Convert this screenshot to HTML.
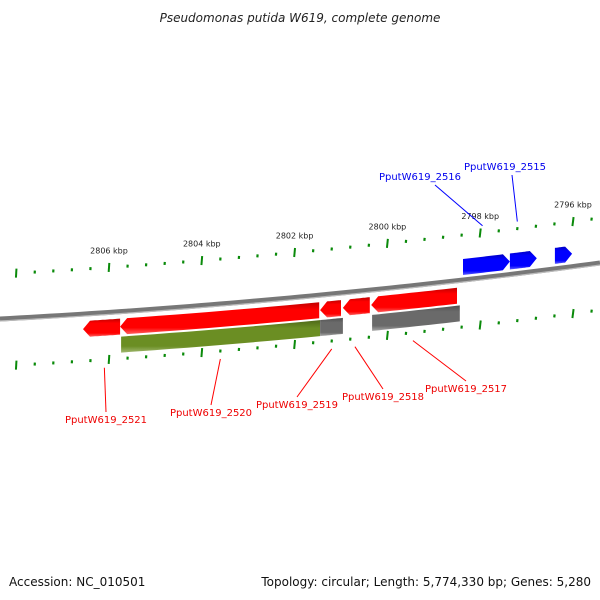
<!DOCTYPE html>
<html><head><meta charset="utf-8"><style>
html,body{margin:0;padding:0;background:#fff;width:600px;height:600px;overflow:hidden}
text{font-family:"DejaVu Sans","Liberation Sans",sans-serif}
</style></head><body>
<svg id="map" width="600" height="600" xmlns="http://www.w3.org/2000/svg">
<defs>
<linearGradient id="gRed" x1="0" y1="0" x2="0" y2="1"><stop offset="0" stop-color="#c00000"/><stop offset="0.25" stop-color="#ff0000"/><stop offset="0.8" stop-color="#ff0000"/><stop offset="1" stop-color="#ff6060"/></linearGradient>
<linearGradient id="gBlue" x1="0" y1="0" x2="0" y2="1"><stop offset="0" stop-color="#0000c0"/><stop offset="0.25" stop-color="#0000ff"/><stop offset="0.8" stop-color="#0000ff"/><stop offset="1" stop-color="#6060ff"/></linearGradient>
<linearGradient id="gOlive" x1="0" y1="0" x2="0" y2="1"><stop offset="0" stop-color="#4e6818"/><stop offset="0.25" stop-color="#6b8e23"/><stop offset="0.8" stop-color="#6b8e23"/><stop offset="1" stop-color="#a0b870"/></linearGradient>
<linearGradient id="gGrey" x1="0" y1="0" x2="0" y2="1"><stop offset="0" stop-color="#505050"/><stop offset="0.25" stop-color="#6a6a6a"/><stop offset="0.8" stop-color="#6a6a6a"/><stop offset="1" stop-color="#a8a8a8"/></linearGradient>
</defs>
<text x="300" y="22" text-anchor="middle" font-size="12" font-style="italic" fill="#222">Pseudomonas putida W619, complete genome</text>
<text x="9" y="586" font-size="12" fill="#111">Accession: NC_010501</text>
<text x="591" y="586" font-size="12" fill="#111" text-anchor="end">Topology: circular; Length: 5,774,330 bp; Genes: 5,280</text>
<g id="layer"></g>
</svg>
<script>
// data (kbp)
const majorTicks = [2808, 2806, 2804, 2802, 2800, 2798, 2796];
const tickLabels = ["", "2806 kbp", "2804 kbp", "2802 kbp", "2800 kbp", "2798 kbp", "2796 kbp"];
const geneStart = [2806.56, 2805.76, 2801.45, 2800.96, 2800.35, 2798.37, 2797.36, 2796.39];
const geneEnd   = [2805.76, 2801.47, 2801.0, 2800.38, 2798.5, 2797.36, 2796.78, 2796.02];
const geneStrand = [-1, -1, -1, -1, -1, 1, 1, 1];
const track2Start = [2805.74, 2801.45, 2800.33];
const track2End = [2801.45, 2800.96, 2798.44];
const track2Color = ["olive", "grey", "grey"];
const redLabels = ["PputW619_2521", "PputW619_2520", "PputW619_2519", "PputW619_2518", "PputW619_2517"];
const redLabelKbp = [2806.1, 2803.6, 2801.2, 2800.7, 2799.45];
const blueLabels = ["PputW619_2516", "PputW619_2515"];
const blueLabelKbp = [2797.95, 2797.2];

const NS = "http://www.w3.org/2000/svg";
const layer = document.getElementById('layer');
function X(k){ return 109 + (2806 - k) * 46.4; }
function B(x){ return 319 - 0.0533*x - 0.0000667*x*x; }
function slope(x){ return -0.0533 - 2*0.0000667*x; }
function mk(tag, attrs){ const e=document.createElementNS(NS,tag); for(const k in attrs) e.setAttribute(k,attrs[k]); layer.appendChild(e); return e; }

let d="";
for(let x=0;x<=600;x+=10){ d+=(x?"L":"M")+x+","+B(x).toFixed(2); }
const bb = mk('path',{d:d,stroke:'#777','stroke-width':5,fill:'none'});


const bb2 = mk('path',{d:d,stroke:'#bbb','stroke-width':1.2,fill:'none',transform:'translate(0,2)'});



function drawTicks(off, row){
  for(let i=0;i<majorTicks.length;i++){
    for(let m=0;m<5;m++){
      const k = majorTicks[i] - m*0.4;
      const x = X(k); if(x<-5||x>605) continue;
      const y = B(x)+off;
      const major = m===0;
      const h = major?9:3;
      const s = slope(x);
      const t = mk('line',{x1:x-s*h/2,y1:y-h/2,x2:x+s*h/2,y2:y+h/2,stroke:'#0a8a0a','stroke-width':major?2:2.2});
      
      
    }
    if(row==='outer' && tickLabels[i]){
      const x=X(majorTicks[i]);
      const tl = mk('text',{x:x,y:B(x)-59,'font-size':8,'text-anchor':'middle',fill:'#222'});
      tl.textContent = tickLabels[i];
      
      
    }
  }
}
drawTicks(-45,'outer');
drawTicks(47,'inner');

function geneShape(k1,k2,strand,o1,o2,fill,head){
  let xa=X(k1), xb=X(k2); if(xa>xb){const t=xa;xa=xb;xb=t;}
  const pts=[]; const n=12;
  const mid=(o1+o2)/2;
  let sa=xa, sb=xb;
  if(strand===-1) sa=Math.min(xa+head,xb);
  if(strand===1) sb=Math.max(xb-head,xa);
  for(let i=0;i<=n;i++){const x=sa+(sb-sa)*i/n; pts.push([x,B(x)+o1]);}
  if(strand===1) pts.push([xb,B(xb)+mid]);
  for(let i=n;i>=0;i--){const x=sa+(sb-sa)*i/n; pts.push([x,B(x)+o2]);}
  if(strand===-1) pts.push([xa,B(xa)+mid]);
  return mk('polygon',{points:pts.map(p=>p[0].toFixed(1)+","+p[1].toFixed(1)).join(" "),fill:fill});
}
for(let i=0;i<geneStart.length;i++){
  const st=geneStrand[i];
  const g = st===1 ? geneShape(geneStart[i],geneEnd[i],1,-21,-5,'url(#gBlue)',7)
                   : geneShape(geneStart[i],geneEnd[i],-1,7,23,'url(#gRed)',7);
  
  
}
for(let i=0;i<track2Start.length;i++){
  const g = geneShape(track2Start[i],track2End[i],0,25,41,track2Color[i]==='olive'?'url(#gOlive)':'url(#gGrey)',0);
  
  
}

const redPos = [[106,423],[211,416],[297,408],[383,400],[466,392]];
for(let i=0;i<redLabels.length;i++){
  const gx = X(redLabelKbp[i]); const gy = B(gx)+55;
  const tx = redPos[i][0], ty = redPos[i][1];
  const ln = mk('line',{x1:gx,y1:gy,x2:tx,y2:ty-11,stroke:'#f00','stroke-width':1});
  
  
  const t = mk('text',{x:tx,y:ty,'font-size':10,'text-anchor':'middle',fill:'#e00'});
  t.textContent = redLabels[i];
  
  
}
const bluePos = [[420,180],[505,170]];
const blueAnchorDx = [15, 7];
for(let i=0;i<blueLabels.length;i++){
  const gx = X(blueLabelKbp[i]); const gy = B(gx)-52;
  const tx = bluePos[i][0], ty = bluePos[i][1];
  const ln = mk('line',{x1:gx,y1:gy,x2:tx+blueAnchorDx[i],y2:ty+5,stroke:'#00f','stroke-width':1});
  
  
  const t = mk('text',{x:tx,y:ty,'font-size':10,'text-anchor':'middle',fill:'#00e'});
  t.textContent = blueLabels[i];
  
  
}
</script>
</body></html>
